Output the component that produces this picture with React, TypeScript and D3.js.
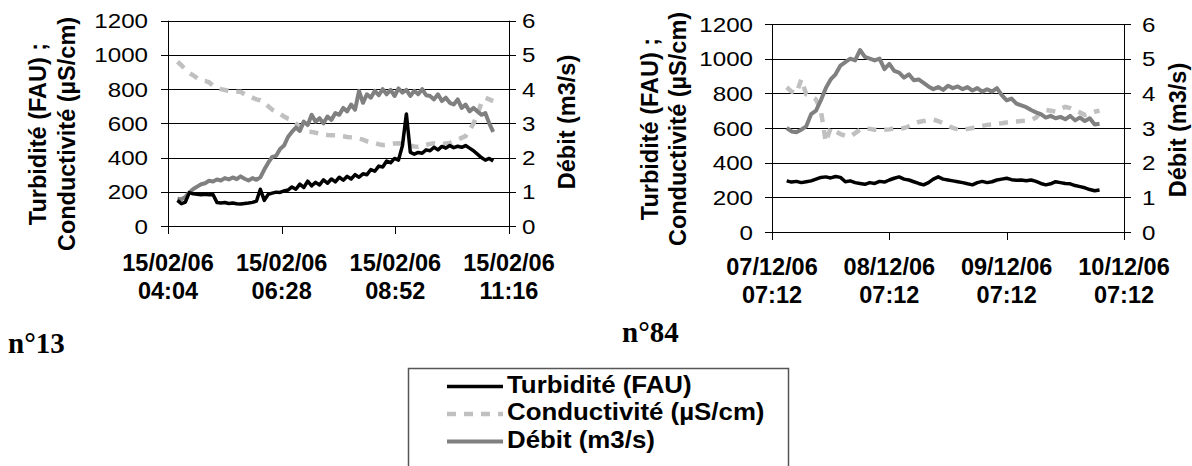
import * as d3 from 'd3'

const FONT = '"Liberation Sans", Arial, Helvetica, sans-serif'
const SERIF = '"Liberation Serif", "Times New Roman", serif'

// n°13 : 15/02/06, one reading every 5 min from 04:16
const n13Start = new Date(2006, 1, 15, 4, 16)
const n13StepMin = 5
const n13Turbidite = [
  150, 130, 140, 195, 188, 186, 183, 185, 182, 184,
  138, 135, 137, 132, 134, 130, 128, 131, 134, 138,
  145, 215, 150, 185, 192, 198, 196, 205, 210, 228,
  215, 245, 225, 262, 235, 255, 240, 270, 250, 275,
  258, 285, 268, 290, 275, 300, 285, 305, 300, 330,
  320, 350, 345, 380, 370, 395, 385, 470, 655, 430,
  420, 430, 425, 445, 440, 460, 445, 465, 455, 470,
  458, 466, 460, 470, 455, 440, 420, 400, 385, 395,
  380,
]
const n13Conductivite = [
  960, 940, 915, 895, 880, 865, 850, 848, 840, 820,
  810, 800, 795, 790, 786, 785, 785, 770, 760, 750,
  740, 735, 720, 700, 680, 668, 655, 640, 628, 620,
  600, 580, 560, 552, 550, 545, 540, 535, 532, 530,
  530, 528, 525, 520, 518, 515, 510, 505, 495, 490,
  485, 478, 473, 475, 478, 482, 483, 480, 475, 470,
  465, 463, 468, 475, 480, 483, 480, 478, 482, 485,
  495, 505, 515, 525, 560, 600, 650, 720, 750, 740,
  730,
]
const n13Debit = [
  0.8, 0.78, 0.85, 0.98, 1.08, 1.15, 1.22, 1.25, 1.32, 1.3,
  1.36, 1.33, 1.4, 1.36, 1.42, 1.37, 1.45, 1.38, 1.33, 1.4,
  1.35, 1.42, 1.65, 1.85, 2.02, 2.05, 2.25, 2.35, 2.6, 2.75,
  2.88, 2.78, 3.05, 2.95, 3.25, 3.05, 3.15, 3.0, 3.2, 3.1,
  3.3, 3.25, 3.45, 3.35, 3.55, 3.4, 3.95, 3.6, 3.85, 3.75,
  3.95, 3.82, 4.0, 3.85, 3.98, 3.8, 4.02, 3.9, 3.98, 3.8,
  3.95, 3.85, 4.0, 3.82, 3.8, 3.7, 3.85, 3.65, 3.75, 3.6,
  3.55, 3.7, 3.45, 3.55, 3.35, 3.45, 3.35, 3.25, 3.3, 3.0,
  2.75,
]
const n13Ticks = ['2006-02-15 04:04', '2006-02-15 06:28', '2006-02-15 08:52', '2006-02-15 11:16']

// n°84 : 07/12/06 -> 10/12/06, one reading every hour from 10:12
const n84Start = new Date(2006, 11, 7, 10, 12)
const n84StepMin = 60
const n84Turbidite = [
  295, 288, 292, 285, 290, 295, 305, 315, 318, 312,
  320, 315, 290, 295, 285, 280, 275, 285, 280, 292,
  288, 300, 310, 318, 305, 300, 290, 280, 272, 285,
  305, 318, 305, 300, 295, 290, 285, 278, 272, 285,
  292, 285, 290, 300, 305, 310, 302, 298, 300, 296,
  300, 292, 280, 272, 278, 290, 285, 280, 278, 268,
  262, 255, 245, 238, 242,
]
const n84Conductivite = [
  835, 810, 800, 880, 795, 785, 765, 700, 520, 600,
  580, 565, 555, 550, 570, 590, 598, 595, 590, 588,
  590, 592, 598, 596, 600, 610, 625, 635, 640, 645,
  648, 640, 628, 615, 600, 592, 588, 595, 600, 608,
  612, 618, 620, 625, 628, 632, 636, 638, 640, 642,
  646, 660, 690, 704, 700, 695, 710, 722, 715, 700,
  690, 675, 685, 694, 700,
]
const n84Debit = [
  3.0, 2.9, 2.88, 2.95, 3.05, 3.4, 3.5, 3.8, 4.15, 4.4,
  4.55, 4.8, 4.9, 5.0, 4.95, 5.25, 5.05, 5.0, 4.95, 5.0,
  4.7, 4.85, 4.65, 4.6, 4.45, 4.55, 4.38, 4.4, 4.3, 4.2,
  4.12, 4.18, 4.1, 4.22, 4.15, 4.2, 4.12, 4.18, 4.08, 4.15,
  4.05, 4.12, 4.05, 4.15, 3.95, 3.8, 3.85, 3.7, 3.65, 3.6,
  3.52, 3.45, 3.4, 3.3, 3.35, 3.28, 3.32, 3.25, 3.35, 3.22,
  3.3, 3.2, 3.28, 3.1, 3.12,
]
const n84Ticks = ['2006-12-07 07:12', '2006-12-08 07:12', '2006-12-09 07:12', '2006-12-10 07:12']

const leftAxisTicks = [0, 200, 400, 600, 800, 1000, 1200]
const rightAxisTicks = [0, 1, 2, 3, 4, 5, 6]

const TURB = { color: '#000', width: 3.5, dash: undefined }
const COND = { color: '#c0c0c0', width: 4.5, dash: '9,8' }
const DEB = { color: '#808080', width: 4, dash: undefined }

const legendItems = [
  { label: 'Turbidité (FAU)', ...TURB },
  { label: 'Conductivité (µS/cm)', ...COND },
  { label: 'Débit (m3/s)', ...DEB },
]

const parse = d3.timeParse('%Y-%m-%d %H:%M')
const fmtDay = d3.timeFormat('%d/%m/%y')
const fmtHour = d3.timeFormat('%H:%M')

function SText({ x, y, sx = 1, anchor = 'start', size, weight = 'normal', family = FONT, children }: any) {
  return (
    <text
      transform={`translate(${x},${y}) scale(${sx},1)`}
      textAnchor={anchor}
      fontSize={size}
      fontWeight={weight}
      fontFamily={family}
      fill="#000"
    >
      {children}
    </text>
  )
}

function Panel({ lay, start, stepMin, turb, cond, debit, ticks, caption }: any) {
  const tickDates = ticks.map((t: string) => parse(t) as Date)
  const x = d3.scaleTime().domain([tickDates[0], tickDates[tickDates.length - 1]]).range([lay.x0, lay.x1])
  const yL = d3.scaleLinear().domain([0, 1200]).range([lay.yBot, lay.yTop])
  const yR = d3.scaleLinear().domain([0, 6]).range([lay.yBot, lay.yTop])
  const at = (i: number) => d3.timeMinute.offset(start, i * stepMin)
  const lineL = d3.line<number>().x((_, i) => x(at(i))).y(d => yL(d))
  const lineR = d3.line<number>().x((_, i) => x(at(i))).y(d => yR(d))
  const snap = (v: number) => Math.round(v) + 0.5

  return (
    <g>
      {leftAxisTicks.map(v => (
        <g key={v}>
          <line x1={lay.x0 - 7} x2={lay.x1 + 7} y1={snap(yL(v))} y2={snap(yL(v))} stroke="#000" strokeWidth={1} />
          <SText x={lay.yLabelX} y={yL(v) + 7.5} sx={1.15} anchor="end" size={21}>
            {v}
          </SText>
        </g>
      ))}
      {rightAxisTicks.map(v => (
        <SText key={v} x={lay.rLabelX} y={yR(v) + 7.5} sx={1.15} size={21}>
          {v}
        </SText>
      ))}
      <line x1={snap(lay.x0)} x2={snap(lay.x0)} y1={lay.yTop} y2={lay.yBot + 7} stroke="#000" />
      <line x1={snap(lay.x1)} x2={snap(lay.x1)} y1={lay.yTop} y2={lay.yBot + 7} stroke="#000" />
      {tickDates.map((d: Date, i: number) => (
        <g key={i}>
          <line x1={snap(x(d))} x2={snap(x(d))} y1={lay.yBot} y2={lay.yBot + 8} stroke="#000" />
          <SText x={x(d)} y={lay.xLab1} anchor="middle" size={23.5} weight="bold">
            {fmtDay(d)}
          </SText>
          <SText x={x(d)} y={lay.xLab2} anchor="middle" size={23.5} weight="bold">
            {fmtHour(d)}
          </SText>
        </g>
      ))}

      <path d={lineL(cond) ?? ''} fill="none" stroke={COND.color} strokeWidth={COND.width} strokeDasharray={COND.dash} />
      <path d={lineR(debit) ?? ''} fill="none" stroke={DEB.color} strokeWidth={DEB.width} strokeLinejoin="round" />
      <path d={lineL(turb) ?? ''} fill="none" stroke={TURB.color} strokeWidth={TURB.width} strokeLinejoin="round" />

      {[
        { cx: lay.titleL1, label: 'Turbidité (FAU) ;' },
        { cx: lay.titleL2, label: 'Conductivité (µS/cm)' },
        { cx: lay.titleR, label: 'Débit (m3/s)' },
      ].map((t, i) => (
        <text
          key={i}
          transform={`translate(${t.cx},${i === 2 ? lay.titleRY : lay.titleLY}) rotate(-90)`}
          textAnchor="middle"
          dy="0.35em"
          fontSize={23.5}
          fontWeight="bold"
          fontFamily={FONT}
        >
          {t.label}
        </text>
      ))}

      <SText x={caption.x} y={caption.y} size={29} weight="bold" family={SERIF}>
        {caption.text}
      </SText>
    </g>
  )
}

export default function App() {
  const n13Layout = {
    x0: 168, x1: 509, yTop: 20.7, yBot: 226,
    yLabelX: 148, rLabelX: 522,
    titleL1: 38, titleL2: 67, titleLY: 134, titleR: 567, titleRY: 122,
    xLab1: 271, xLab2: 299,
  }
  const n84Layout = {
    x0: 772, x1: 1124, yTop: 24, yBot: 232,
    yLabelX: 753, rLabelX: 1142,
    titleL1: 650, titleL2: 678, titleLY: 129, titleR: 1178, titleRY: 130,
    xLab1: 275, xLab2: 303,
  }
  const legY = d3.scaleLinear().domain([0, 1]).range([386.5, 414])

  return (
    <svg width={1192} height={466} style={{ position: 'absolute', left: 0, top: 0, background: '#fff' }}>
      <Panel
        lay={n13Layout}
        start={n13Start}
        stepMin={n13StepMin}
        turb={n13Turbidite}
        cond={n13Conductivite}
        debit={n13Debit}
        ticks={n13Ticks}
        caption={{ x: 8, y: 353, text: 'n°13' }}
      />
      <Panel
        lay={n84Layout}
        start={n84Start}
        stepMin={n84StepMin}
        turb={n84Turbidite}
        cond={n84Conductivite}
        debit={n84Debit}
        ticks={n84Ticks}
        caption={{ x: 622, y: 342, text: 'n°84' }}
      />

      <rect x={408.5} y={368.5} width={380} height={120} fill="none" stroke="#555" strokeWidth={1.5} />
      {legendItems.map((it, i) => (
        <g key={it.label}>
          <line
            x1={447}
            x2={503}
            y1={legY(i)}
            y2={legY(i)}
            stroke={it.color}
            strokeWidth={it.width}
            strokeDasharray={it.dash}
          />
          <SText x={507} y={legY(i) + 6} sx={1.1} size={23.5} weight="bold">
            {it.label}
          </SText>
        </g>
      ))}
    </svg>
  )
}
